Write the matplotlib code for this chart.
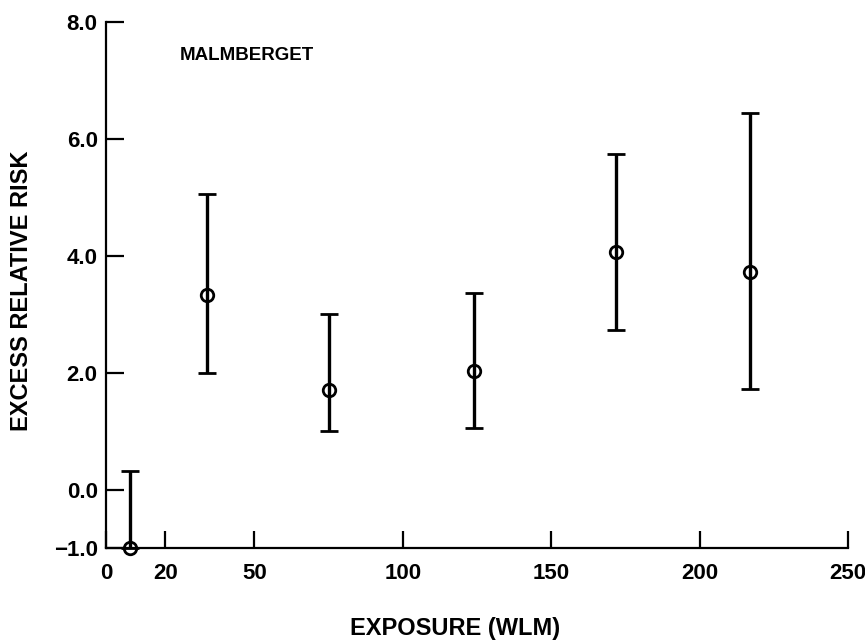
import matplotlib
matplotlib.use("Agg")
import numpy as np
from matplotlib import pyplot as plt

plt.rcParams['font.family'] = ['Liberation Sans', 'DejaVu Sans']
plt.rcParams['font.weight'] = 'bold'

# Malmberget cohort: excess relative risk by cumulative exposure
exposure = [8, 34, 75, 124, 172, 217]
err = [-1.0, 3.33, 1.70, 2.02, 4.07, 3.73]
err_low = [-1.0, 2.0, 1.01, 1.05, 2.73, 1.72]
err_high = [0.31, 5.05, 3.0, 3.37, 5.74, 6.44]

xticks = [0, 20, 50, 100, 150, 200, 250]
yticks = [-1.0, 0.0, 2.0, 4.0, 6.0, 8.0]

f = plt.figure(figsize=(8.65, 6.4), dpi=100)
ax = f.add_axes([106 / 865, 1 - 548 / 640, (848 - 106) / 865, (548 - 22) / 640])

lower = np.array(err) - np.array(err_low)
upper = np.array(err_high) - np.array(err)
bars = ax.errorbar(exposure, err, yerr=[lower, upper], fmt='o', color='black',
                   mfc='none', mec='black', ms=9, mew=2.0,
                   elinewidth=2.4, capsize=6.5, capthick=2.2, zorder=3)
for artist in bars.lines[0:1] + tuple(bars.lines[1]) + tuple(bars.lines[2]):
    artist.set_clip_on(False)

ax.set_xlim(0, 250)
ax.set_ylim(-1.0, 8.0)
ax.set_xticks(xticks)
ax.set_xticklabels([str(t) for t in xticks])
ax.set_yticks(yticks)
ax.set_yticklabels(['%.1f' % t if t >= 0 else '\u2212%.1f' % -t for t in yticks])

for side in ['top', 'right']:
    ax.spines[side].set_visible(False)
for side in ['left', 'bottom']:
    ax.spines[side].set_linewidth(1.6)

ax.tick_params(axis='both', direction='in', width=1.6, labelsize=16)
ax.tick_params(axis='x', length=12, pad=11)
ax.tick_params(axis='y', length=13, pad=6)

ax.text(25, 7.42, 'MALMBERGET', fontsize=13.5, fontweight='bold', va='center')

f.text(455 / 865, 1 - 629 / 640, 'EXPOSURE (WLM)', fontsize=17,
       fontweight='bold', ha='center', va='center')
f.text(22 / 865, 1 - 291 / 640, 'EXCESS RELATIVE RISK', fontsize=17,
       fontweight='bold', ha='center', va='center', rotation=90)

f.savefig('out.png', dpi=100)
